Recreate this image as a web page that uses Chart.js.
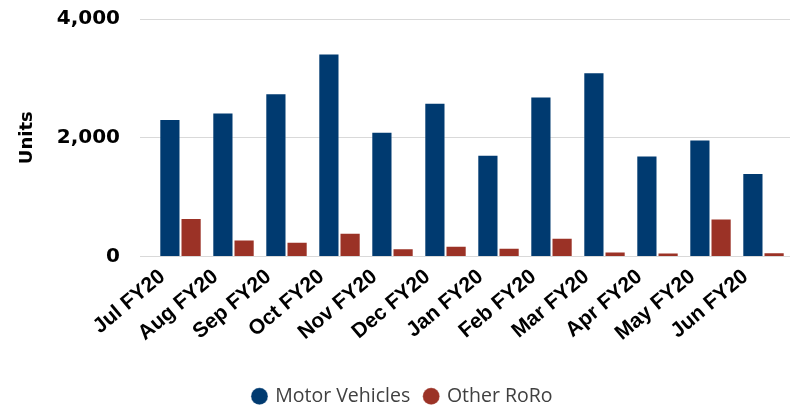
<!DOCTYPE html>
<html>
<head>
<meta charset="utf-8">
<script src="https://cdn.jsdelivr.net/npm/chart.js@4.4.1/dist/chart.umd.min.js"></script>
<style>
html,body{margin:0;padding:0;background:#fff;}
#wrap{width:798px;height:408px;position:relative;}
</style>
</head>
<body>
<div id="wrap"><canvas id="c" width="798" height="408"></canvas></div>
<script>
const categories = ["Jul FY20","Aug FY20","Sep FY20","Oct FY20","Nov FY20","Dec FY20","Jan FY20","Feb FY20","Mar FY20","Apr FY20","May FY20","Jun FY20"];
const motorVehicles = [2317,2424,2751,3418,2102,2588,1712,2695,3102,1700,1971,1407];
const otherRoRo = [649,288,249,401,141,181,147,317,85,68,639,73];
const yTicks = [0,2000,4000];

new Chart(document.getElementById('c'), {
  type: 'bar',
  data: {
    labels: categories,
    datasets: [
      {label:'Motor Vehicles', data: motorVehicles, backgroundColor:'#003A70', borderColor:'rgba(255,255,255,0.3)', borderWidth:1, categoryPercentage:0.8, barPercentage:1.0},
      {label:'Other RoRo', data: otherRoRo, backgroundColor:'#9B3226', borderColor:'rgba(255,255,255,0.3)', borderWidth:1, categoryPercentage:0.8, barPercentage:1.0}
    ]
  },
  options: {
    responsive:false,
    animation:false,
    devicePixelRatio:1,
    layout:{padding:{top:19,right:8,left:16,bottom:-8}},
    plugins:{
      tooltip:{enabled:false},
      legend:{
        position:'bottom',
        labels:{
          usePointStyle:true, pointStyle:'circle', boxHeight:12, boxWidth:12,
          padding:15, color:'#404040',
          font:{family:'"Open Sans", "Noto Sans", sans-serif', size:19.5}
        }
      }
    },
    scales:{
      x:{
        grid:{display:false, drawTicks:false},
        border:{display:false},
        ticks:{
          autoSkip:false, minRotation:40, maxRotation:40, color:'#000',
          padding:8, labelOffset:-18,
          font:{family:'"Liberation Sans", Arial, sans-serif', size:21, weight:'bold'}
        },
        afterFit(s){ s.height = 115; }
      },
      y:{
        min:0, max:4000,
        afterBuildTicks(s){ s.ticks = yTicks.map(v=>({value:v})); },
        grid:{color:'#d9d9d9', lineWidth:1, drawTicks:true, tickLength:14, tickColor:'#d9d9d9'},
        border:{display:false},
        ticks:{
          padding:20, color:'#000',
          font:{family:'"DejaVu Sans", Verdana, sans-serif', size:20, weight:'bold'},
          callback:(v)=>v.toLocaleString('en-US')
        },
        title:{
          display:true, text:'Units', color:'#000',
          font:{family:'"DejaVu Sans", Verdana, sans-serif', size:18, weight:'bold'},
          padding:{top:1,bottom:0}
        },
        afterFit(s){ s.width = 138; s.paddingTop = 0; s.paddingBottom = 0; }
      }
    }
  }
});
</script>
</body>
</html>
